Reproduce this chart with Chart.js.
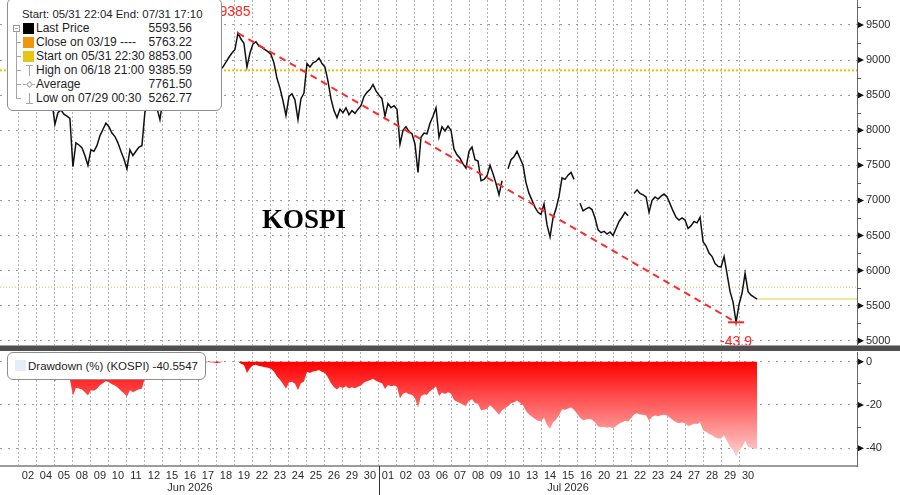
<!DOCTYPE html>
<html>
<head>
<meta charset="utf-8">
<title>KOSPI</title>
<script src="https://cdn.jsdelivr.net/npm/chart.js@4.4.1/dist/chart.umd.min.js"></script>
<style>
  html, body { margin: 0; padding: 0; background: #fff; }
  body { position: relative; width: 900px; height: 495px; overflow: hidden; font-family: "Liberation Sans", Arial, sans-serif; }
  canvas { position: absolute; left: 0; }
  .abs { position: absolute; }
  .box { position: absolute; box-sizing: border-box; background: #fff; border: 1px solid #8e8e8e; border-radius: 6px; }
  .txt { position: absolute; font-size: 12px; line-height: 14px; color: #1e1e1e; white-space: nowrap; }
  .val { text-align: right; width: 80px; }
  .gl { position: absolute; background: #a6a6a6; }
  #kospi { position: absolute; left: 262px; top: 204px; font: bold 27px "Liberation Serif", "Times New Roman", serif; color: #000; line-height: 30px; }
</style>
</head>
<body>
<canvas id="priceChart" width="900" height="346" style="top:0"></canvas>
<div class="abs" style="left:0;top:345px;width:900px;height:1px;background:#a0a0a0"></div>
<div class="abs" style="left:0;top:346px;width:900px;height:5px;background:#4f4f4f"></div>
<canvas id="ddChart" width="900" height="144" style="top:351px"></canvas>
<div id="kospi">KOSPI</div>
<div id="legend"></div>
<script>
// trading sessions shown on the axis
const junDays = ['02','04','05','08','09','10','11','12','15','16','17','18','19','22','23','24','25','26','29','30'];
const julDays = ['01','02','03','06','07','08','09','10','13','14','15','16','20','21','22','23','24','27','28','29','30'];
const monthNames = ['Jun 2026', 'Jul 2026'];

// KOSPI, 6 readings per session, first group is the 05/31 evening session
const samplesPerSession = 6;
const price = [
  null, null, null, 8890, 8870, 8820,
  // Jun 02
  8850, 8800, 8760, 8820, 8780, 8700,
  8650, 8600, 8560, 8620, 8500, 8420,
  8084, 8250, 8290, 8230, 8200, 8170,
  // Jun 08
  7480, 7820, 7790, 7750, 7640, 7500,
  7720, 7700, 7780, 7920, 8010, 8100,
  8050, 7960, 7910, 7820, 7700, 7590,
  7450, 7720, 7640, 7700, 7760, 7780,
  8260, 8400, 8450, 8380, 8320, 8150,
  // Jun 15
  8450, 8520, 8600, 8580, 8650, 8700,
  8680, 8750, 8720, 8800, 8780, 8830,
  8820, 8860, 8850, 8880, 8870, 8860,
  8840, 8860, 8900, 8970, 9040, 9100,
  9150, 9385.59, 9300, 9240, 8900, 9100,
  // Jun 22
  9230, 9260, 9200, 9180, 9150, 9120,
  9080, 8960, 8740, 8600, 8420, 8210,
  8480, 8520, 8430, 8150, 8450, 8530,
  8950, 8900, 8960, 8980, 9030, 8950,
  8900, 8700, 8450, 8280, 8180, 8300,
  // Jun 29
  8250, 8320, 8220, 8280, 8240, 8300,
  8350, 8480, 8540, 8580, 8650, 8560,
  // Jul 01
  8500, 8450, 8200, 8380, 8320, 8350,
  8300, 7800, 8000, 8050, 7980, 7950,
  7800, 7400, 7900, 7960, 7950, 8100,
  // Jul 06
  8200, 8320, 7900, 8050, 7990, 8060,
  8000, 7730, 7650, 7600, 7520, 7460,
  7700, 7760, 7580, 7560, 7280, 7300,
  7350, 7500, 7380, 7240, 7080, 7280,
  null, 7450, 7580, 7620, 7700, 7600,
  // Jul 13
  7500, 7250, 7100, 7000, 6900, 6830,
  6800, 6950, 6650, 6480, 6750, 6880,
  7060, 7320, 7300, 7360, 7400, 7300,
  null, 6960, 6850, 6880, 6900, 6870,
  // Jul 20
  6750, 6580, 6540, 6560, 6520, 6550,
  6500, 6600, 6700, 6760, 6830, 6780,
  null, 7100, 7150, 7100, 7080, 7050,
  6830, 7000, 7050, 7020, 7060, 7090,
  7050, 6950, 6850, 6760, 6720, 6750,
  // Jul 27
  6720, 6600, 6640, 6700, 6680, 6760,
  6410, 6350, 6250, 6200, 6100, 6060,
  6050, 6200, 5950, 5700, 5550, 5262.77,
  5520, 5680, 5960, 5700, 5650, 5620,
  5593.56
];

const lastPrice = 5593.56;
const closeMar19 = 5763.22;
const startPrice = 8853.00;
const highPrice = 9385.59;
const avgPrice = 7761.50;
const lowPrice = 5262.77;
const lastDrawdown = -40.5547;
const rangeStart = '05/31 22:04';
const rangeEnd = '07/31 17:10';

const priceTicks = [5000, 5500, 6000, 6500, 7000, 7500, 8000, 8500, 9000, 9500];
const ddTicks = [0, -20, -40];

// ---- derived ----
const allDays = junDays.concat(julDays);
const sessionTicks = allDays.map((d, i) => i);
const monthMid = [Math.floor((junDays.length - 1) / 2), junDays.length + Math.floor((julDays.length - 1) / 2)];
const xAt = k => -1 + k / samplesPerSession;
const xMin = -1.05, xMax = 46.55;

let runMax = -Infinity;
const drawdown = price.map(v => {
  if (v === null) return null;
  runMax = Math.max(runMax, v);
  return (v / runMax - 1) * 100;
});

const highIdx = price.indexOf(highPrice);
const lowIdx = price.indexOf(lowPrice);
const lastIdx = price.length - 1;

Chart.defaults.font.family = '"Liberation Sans", Arial, sans-serif';
Chart.defaults.color = '#2b2b2b';

const axisMarks = {
  id: 'axisMarks',
  afterDraw(chart, args, opts) {
    const s = chart.scales.y, ctx = chart.ctx;
    ctx.save();
    ctx.fillStyle = '#111';
    opts.major.forEach(v => {
      const py = s.getPixelForValue(v);
      ctx.beginPath();
      ctx.moveTo(s.left + 1, py - 3);
      ctx.lineTo(s.left + 7, py);
      ctx.lineTo(s.left + 1, py + 3);
      ctx.closePath();
      ctx.fill();
    });
    ctx.strokeStyle = '#555';
    ctx.lineWidth = 1;
    opts.minor.forEach(v => {
      const py = Math.round(s.getPixelForValue(v)) + 0.5;
      if (py < chart.chartArea.top || py > chart.chartArea.bottom) return;
      ctx.beginPath();
      ctx.moveTo(s.left, py);
      ctx.lineTo(s.left + 4, py);
      ctx.stroke();
    });
    ctx.restore();
  }
};

const extremes = {
  id: 'extremes',
  afterDatasetsDraw(chart) {
    const x = chart.scales.x, y = chart.scales.y, ctx = chart.ctx;
    const hx = x.getPixelForValue(xAt(highIdx)), hy = y.getPixelForValue(highPrice);
    const lx = x.getPixelForValue(xAt(lowIdx)), ly = y.getPixelForValue(lowPrice);
    ctx.save();
    ctx.fillStyle = '#ff2424';
    ctx.font = '14px "Liberation Sans", Arial';
    ctx.textAlign = 'center';
    ctx.textBaseline = 'middle';
    ctx.fillText(Math.floor(highPrice), hx - 3, hy - 21);
    ctx.fillText(drawdown[lowIdx].toFixed(1), lx, ly + 20);
    ctx.strokeStyle = '#ff2424';
    ctx.lineWidth = 2;
    ctx.beginPath();
    ctx.moveTo(lx - 8, ly);
    ctx.lineTo(lx + 8, ly);
    ctx.stroke();
    ctx.restore();
  }
};

const monthSplit = {
  id: 'monthSplit',
  afterDraw(chart) {
    const ctx = chart.ctx;
    const px = Math.round(chart.scales.x.getPixelForValue(junDays.length)) + 0.5;
    ctx.save();
    ctx.strokeStyle = '#333';
    ctx.lineWidth = 1;
    ctx.beginPath();
    ctx.moveTo(px, chart.chartArea.bottom);
    ctx.lineTo(px, chart.height);
    ctx.stroke();
    ctx.restore();
  }
};

function flatLine(y, from, to) {
  return [{ x: from, y: y }, { x: to, y: y }];
}

// top pane: price
new Chart(document.getElementById('priceChart'), {
  type: 'line',
  data: {
    datasets: [
      { data: price.map((v, k) => ({ x: xAt(k), y: v })), borderColor: '#111', borderWidth: 1.5, order: 1 },
      { data: [{ x: xAt(highIdx), y: highPrice }, { x: xAt(lowIdx), y: lowPrice }], borderColor: '#ff2a2a', borderWidth: 2, borderDash: [7, 5], order: 0 },
      { data: flatLine(startPrice, xMin, xMax), borderColor: '#ecc500', borderWidth: 2, borderDash: [2, 2], order: 3 },
      { data: flatLine(closeMar19, xMin, xMax), borderColor: '#f6b54a', borderWidth: 1, borderDash: [1, 2], order: 3 },
      { data: flatLine(lastPrice, xAt(lastIdx), xMax), borderColor: '#f3e4a4', borderWidth: 2, order: 2 }
    ]
  },
  options: {
    responsive: false,
    animation: false,
    events: [],
    layout: { padding: 0 },
    elements: { point: { radius: 0 }, line: { tension: 0 } },
    plugins: { legend: { display: false }, tooltip: { enabled: false }, axisMarks: { major: priceTicks, minor: priceTicks.map(v => v + 250) } },
    scales: {
      x: {
        type: 'linear', min: xMin, max: xMax,
        afterBuildTicks: s => { s.ticks = sessionTicks.map(v => ({ value: v })); },
        afterFit: s => { s.height = 0; s.paddingLeft = 0; s.paddingRight = 0; },
        ticks: { display: false },
        grid: { color: '#b4b4b4', lineWidth: 1, drawTicks: false },
        border: { display: false, dash: [2, 2] }
      },
      y: {
        position: 'right', min: 4925, max: 9856,
        afterBuildTicks: s => { s.ticks = priceTicks.map(v => ({ value: v })); },
        afterFit: s => { s.width = 43; s.paddingTop = 0; s.paddingBottom = 0; },
        ticks: { padding: 9, color: '#2b2b2b', font: { size: 11 }, callback: v => String(v) },
        grid: { color: '#9c9c9c', lineWidth: 1, drawTicks: false },
        border: { display: true, color: '#666', width: 1, dash: [2, 6] }
      }
    }
  },
  plugins: [axisMarks, extremes]
});

// bottom pane: drawdown
new Chart(document.getElementById('ddChart'), {
  type: 'line',
  data: {
    datasets: [{
      data: drawdown.map((v, k) => ({ x: xAt(k), y: v })),
      spanGaps: true,
      fill: 'origin',
      borderWidth: 0,
      backgroundColor(c) {
        const ch = c.chart;
        if (!ch.chartArea) return '#ff0000';
        const ys = ch.scales.y;
        const g = ch.ctx.createLinearGradient(0, ys.getPixelForValue(0), 0, ys.getPixelForValue(-45));
        g.addColorStop(0, '#ff0000');
        g.addColorStop(1, '#ffd6d6');
        return g;
      }
    }]
  },
  options: {
    responsive: false,
    animation: false,
    events: [],
    layout: { padding: { top: 1, left: 0, right: 0, bottom: 0 } },
    elements: { point: { radius: 0 }, line: { tension: 0 } },
    plugins: { legend: { display: false }, tooltip: { enabled: false }, axisMarks: { major: ddTicks, minor: [-10, -30] } },
    scales: {
      x: {
        type: 'linear', min: xMin, max: xMax,
        afterBuildTicks: s => { s.ticks = sessionTicks.map(v => ({ value: v })); },
        afterFit: s => { s.height = 29; s.paddingLeft = 0; s.paddingRight = 0; },
        ticks: {
          autoSkip: false, maxRotation: 0, minRotation: 0, labelOffset: 9, padding: 4,
          color: '#2b2b2b', font: { size: 11, lineHeight: 1.1 },
          callback: v => {
            const m = monthMid.indexOf(v);
            return m >= 0 ? [allDays[v], monthNames[m]] : allDays[v];
          }
        },
        grid: { color: '#b4b4b4', lineWidth: 1, drawTicks: false },
        border: { display: true, color: '#9c9c9c', width: 2, dash: [2, 2] }
      },
      y: {
        position: 'right', min: -48.2, max: 4.5,
        afterBuildTicks: s => { s.ticks = ddTicks.map(v => ({ value: v })); },
        afterFit: s => { s.width = 43; s.paddingTop = 0; s.paddingBottom = 0; },
        ticks: { padding: 9, color: '#2b2b2b', font: { size: 11 }, callback: v => String(v) },
        grid: { color: '#9c9c9c', lineWidth: 1, drawTicks: false },
        border: { display: true, color: '#666', width: 1, dash: [2, 6] }
      }
    }
  },
  plugins: [axisMarks, monthSplit]
});

// legends (real text)
const legendRows = [
  { name: 'Last Price', value: lastPrice, icon: 'sq', color: '#000' },
  { name: 'Close on 03/19 ----', value: closeMar19, icon: 'sq', color: '#f0950c' },
  { name: 'Start on 05/31 22:30', value: startPrice, icon: 'sq', color: '#e8c414' },
  { name: 'High on 06/18 21:00', value: highPrice, icon: 'high' },
  { name: 'Average', value: avgPrice, icon: 'avg' },
  { name: 'Low on 07/29 00:30', value: lowPrice, icon: 'low' }
];

const legend = document.getElementById('legend');
function add(html) { legend.insertAdjacentHTML('beforeend', html); }

add('<div class="box" style="left:7px;top:-2px;width:215px;height:113px"></div>');
add(`<div class="txt" style="left:22px;top:7px;font-size:11.4px">Start: ${rangeStart} End: ${rangeEnd}</div>`);
// tree lines
add('<div class="abs" style="left:13px;top:25px;width:5px;height:5px;border:1px solid #9a9a9a;background:#fff"></div>');
add('<div class="gl" style="left:15px;top:28px;width:3px;height:1px"></div>');
add('<div class="gl" style="left:16px;top:32px;width:1px;height:66px"></div>');

legendRows.forEach((r, i) => {
  const cy = 28 + 14 * i;
  if (i > 0) add(`<div class="gl" style="left:16px;top:${cy}px;width:5px;height:1px"></div>`);
  if (r.icon === 'sq') {
    add(`<div class="abs" style="left:23px;top:${cy - 5}px;width:11px;height:11px;background:${r.color}"></div>`);
  } else if (r.icon === 'high') {
    add(`<div class="gl" style="left:29px;top:${cy - 5}px;width:1px;height:11px"></div>`);
    add(`<div class="gl" style="left:26px;top:${cy - 5}px;width:7px;height:1px"></div>`);
  } else if (r.icon === 'avg') {
    add(`<div class="gl" style="left:23px;top:${cy}px;width:12px;height:1px"></div>`);
    add(`<div class="abs" style="left:27px;top:${cy - 2}px;width:3px;height:3px;border:1px solid #a6a6a6;background:#fff;transform:rotate(45deg)"></div>`);
  } else {
    add(`<div class="gl" style="left:29px;top:${cy - 5}px;width:1px;height:11px"></div>`);
    add(`<div class="gl" style="left:26px;top:${cy + 5}px;width:7px;height:1px"></div>`);
  }
  add(`<div class="txt" style="left:36px;top:${cy - 7}px">${r.name}</div>`);
  add(`<div class="txt val" style="left:112px;top:${cy - 7}px">${r.value.toFixed(2)}</div>`);
});

add('<div class="box" style="left:7px;top:352px;width:199px;height:28px"></div>');
add('<div class="abs" style="left:15px;top:360px;width:11px;height:11px;background:#e4eefa"></div>');
add(`<div class="txt" style="left:28px;top:359px;font-size:11.5px">Drawdown (%) (KOSPI) ${lastDrawdown}</div>`);
</script>
</body>
</html>
